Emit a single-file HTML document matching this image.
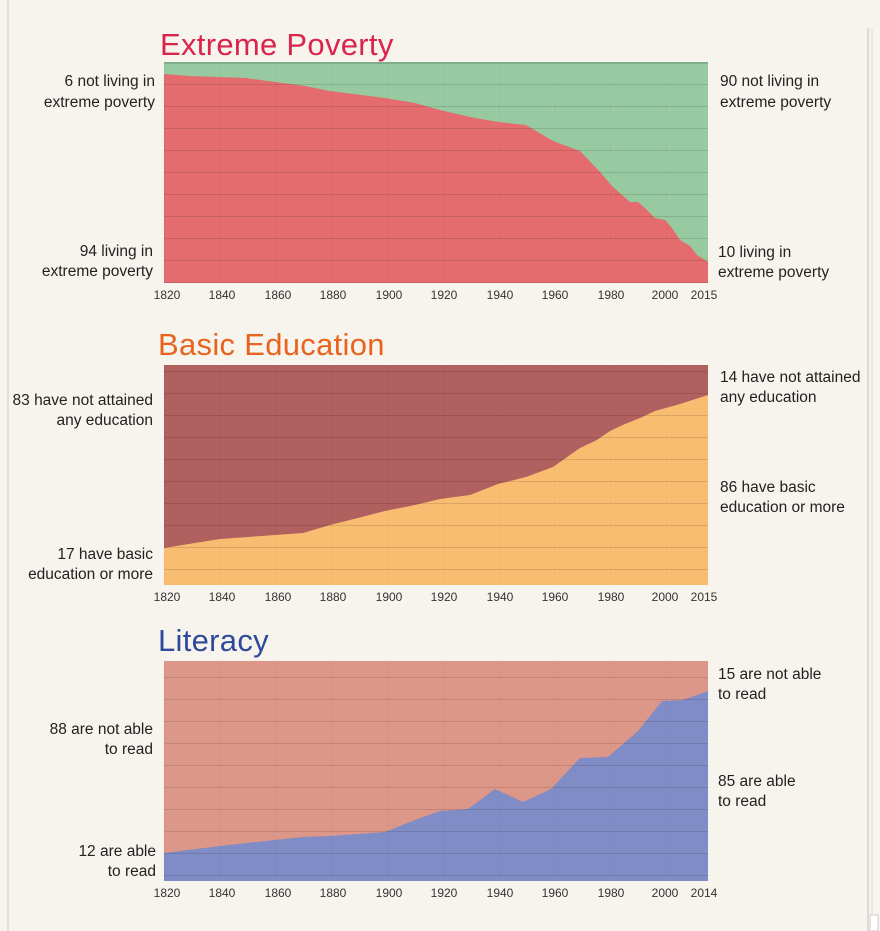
<!DOCTYPE html>
<html><head><style>
body{margin:0;background:#f7f4ee;}
svg{display:block;font-family:"Liberation Sans",sans-serif;}
.t{font-size:31px;letter-spacing:0.3px;}
.l{font-size:15.5px;fill:#222;}
.ax{font-size:12px;fill:#333;}
</style></head><body>
<svg width="880" height="931" viewBox="0 0 880 931">
<rect width="880" height="931" fill="#f7f4ee"/>
<line x1="8" y1="0" x2="8" y2="931" stroke="#e2e0db" stroke-width="2"/>
<line x1="868" y1="28" x2="868" y2="931" stroke="#d8d0cc" stroke-width="1.5"/>
<line x1="872" y1="28" x2="872" y2="931" stroke="#e0dcd8" stroke-width="1"/>
<rect x="870" y="915" width="8" height="16" fill="#fff" stroke="#ccc"/>

<defs>
<pattern id="g1" x="164" y="62" width="55.8" height="22" patternUnits="userSpaceOnUse">
<line x1="0" y1="0" x2="56" y2="0" stroke="rgba(0,0,0,0.16)" stroke-width="1.5"/>
<line x1="0" y1="0" x2="0" y2="22" stroke="rgba(0,0,0,0.1)" stroke-dasharray="2,2"/>
</pattern>
</defs>

<!-- Chart 1 -->
<text x="160" y="55" class="t" fill="#d9254c">Extreme Poverty</text>
<rect x="164" y="62" width="544" height="221" fill="#97caa0"/>
<polygon fill="#e46c6e" points="164,74 190,76 246,78 275,82 305,86 330,91 385,98 415,103 440,110 470,117 498,122 526,125 553,141 580,151 600,172 612,186 622,195 630,202 638,202 646,209 655,218 665,220 672,228 680,240 690,246 697,255 708,262 708,283 164,283"/>
<rect x="164" y="62" width="544" height="221" fill="url(#g1)"/>
<line x1="164" y1="63" x2="708" y2="63" stroke="#7fae89" stroke-width="2"/>
<text class="l" x="155" y="86" text-anchor="end">6 not living in</text>
<text class="l" x="155" y="107" text-anchor="end">extreme poverty</text>
<text class="l" x="153" y="256" text-anchor="end">94 living in</text>
<text class="l" x="153" y="276" text-anchor="end">extreme poverty</text>
<text class="l" x="720" y="86">90 not living in</text>
<text class="l" x="720" y="107">extreme poverty</text>
<text class="l" x="718" y="257">10 living in</text>
<text class="l" x="718" y="277">extreme poverty</text>
<g class="ax" text-anchor="middle">
<text x="167" y="299">1820</text><text x="222" y="299">1840</text><text x="278" y="299">1860</text><text x="333" y="299">1880</text><text x="389" y="299">1900</text><text x="444" y="299">1920</text><text x="500" y="299">1940</text><text x="555" y="299">1960</text><text x="611" y="299">1980</text><text x="665" y="299">2000</text><text x="704" y="299">2015</text>
</g>

<!-- Chart 2 -->
<text x="158" y="355" class="t" fill="#e8641e">Basic Education</text>
<rect x="164" y="365" width="544" height="220" fill="#b0605e"/>
<polygon fill="#f8bd71" points="164,548 220,539 275,535 303,533 330,525 358,518 385,511 415,505 440,499 470,495 498,484 526,477 553,467 580,448 597,440 610,431 625,424 640,418 655,411 680,404 708,395 708,585 164,585"/>
<rect x="164" y="365" width="544" height="220" fill="url(#g1)" transform="translate(0,1)"/>
<text class="l" x="153" y="405" text-anchor="end">83 have not attained</text>
<text class="l" x="153" y="425" text-anchor="end">any education</text>
<text class="l" x="153" y="559" text-anchor="end">17 have basic</text>
<text class="l" x="153" y="579" text-anchor="end">education or more</text>
<text class="l" x="720" y="382">14 have not attained</text>
<text class="l" x="720" y="402">any education</text>
<text class="l" x="720" y="492">86 have basic</text>
<text class="l" x="720" y="512">education or more</text>
<g class="ax" text-anchor="middle">
<text x="167" y="601">1820</text><text x="222" y="601">1840</text><text x="278" y="601">1860</text><text x="333" y="601">1880</text><text x="389" y="601">1900</text><text x="444" y="601">1920</text><text x="500" y="601">1940</text><text x="555" y="601">1960</text><text x="611" y="601">1980</text><text x="665" y="601">2000</text><text x="704" y="601">2015</text>
</g>

<!-- Chart 3 -->
<text x="158" y="651" class="t" fill="#2e4a9a">Literacy</text>
<rect x="164" y="661" width="544" height="220" fill="#dd9789"/>
<polygon fill="#7f8cc5" points="164,853 220,846 275,840 303,837 330,836 385,832 415,820 440,811 468,809 495,789 523,802 551,789 580,758 608,757 638,731 662,701 683,700 708,691 708,881 164,881"/>
<rect x="164" y="661" width="544" height="220" fill="url(#g1)" transform="translate(0,-1)"/>
<text class="l" x="153" y="734" text-anchor="end">88 are not able</text>
<text class="l" x="153" y="754" text-anchor="end">to read</text>
<text class="l" x="156" y="856" text-anchor="end">12 are able</text>
<text class="l" x="156" y="876" text-anchor="end">to read</text>
<text class="l" x="718" y="679">15 are not able</text>
<text class="l" x="718" y="699">to read</text>
<text class="l" x="718" y="786">85 are able</text>
<text class="l" x="718" y="806">to read</text>
<g class="ax" text-anchor="middle">
<text x="167" y="897">1820</text><text x="222" y="897">1840</text><text x="278" y="897">1860</text><text x="333" y="897">1880</text><text x="389" y="897">1900</text><text x="444" y="897">1920</text><text x="500" y="897">1940</text><text x="555" y="897">1960</text><text x="611" y="897">1980</text><text x="665" y="897">2000</text><text x="704" y="897">2014</text>
</g>
</svg>
</body></html>
